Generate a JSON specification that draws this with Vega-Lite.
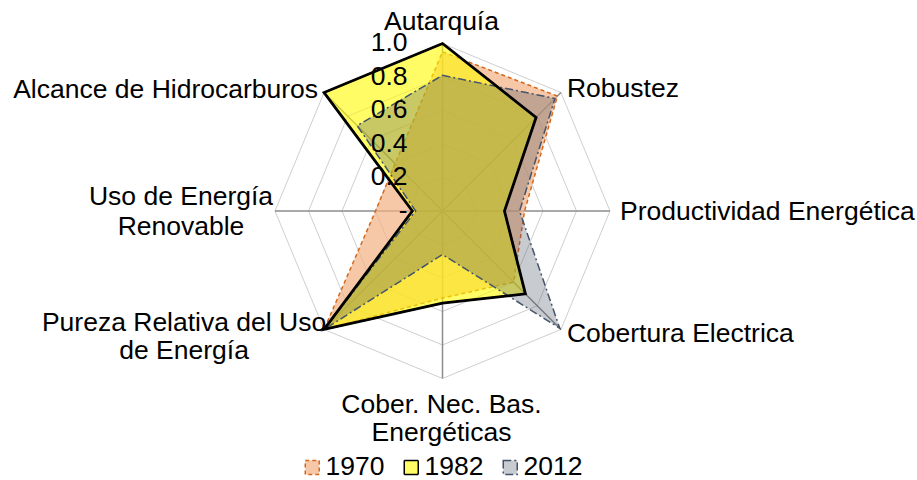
{
  "$schema": "https://vega.github.io/schema/vega-lite/v6.json",
  "width": 917,
  "height": 480,
  "padding": 0,
  "autosize": {"type": "fit", "contains": "padding"},
  "background": "white",
  "config": {"view": {"stroke": null}, "font": "Liberation Sans", "text": {"font": "Liberation Sans", "fontSize": 26.5, "color": "black"}},
  "datasets": {
    "series": [
      {"year": "1970", "i": 0, "value": 0.95},
      {"year": "1970", "i": 1, "value": 0.97},
      {"year": "1970", "i": 2, "value": 0.49},
      {"year": "1970", "i": 3, "value": 0.60},
      {"year": "1970", "i": 4, "value": 0.52},
      {"year": "1970", "i": 5, "value": 1.0},
      {"year": "1970", "i": 6, "value": 0.40},
      {"year": "1970", "i": 7, "value": 0.40},
      {"year": "1982", "i": 0, "value": 1.0},
      {"year": "1982", "i": 1, "value": 0.79},
      {"year": "1982", "i": 2, "value": 0.37},
      {"year": "1982", "i": 3, "value": 0.70},
      {"year": "1982", "i": 4, "value": 0.55},
      {"year": "1982", "i": 5, "value": 1.0},
      {"year": "1982", "i": 6, "value": 0.18},
      {"year": "1982", "i": 7, "value": 1.0},
      {"year": "2012", "i": 0, "value": 0.81},
      {"year": "2012", "i": 1, "value": 0.95},
      {"year": "2012", "i": 2, "value": 0.46},
      {"year": "2012", "i": 3, "value": 0.99},
      {"year": "2012", "i": 4, "value": 0.26},
      {"year": "2012", "i": 5, "value": 1.0},
      {"year": "2012", "i": 6, "value": 0.16},
      {"year": "2012", "i": 7, "value": 0.72}
    ],
    "axes": [
      {"i": 0, "label": "Autarquía", "levels": [0.2, 0.4, 0.6, 0.8, 1.0]},
      {"i": 1, "label": "Robustez", "levels": [0.2, 0.4, 0.6, 0.8, 1.0]},
      {"i": 2, "label": "Productividad Energética", "levels": [0.2, 0.4, 0.6, 0.8, 1.0]},
      {"i": 3, "label": "Cobertura Electrica", "levels": [0.2, 0.4, 0.6, 0.8, 1.0]},
      {"i": 4, "label": ["Cober. Nec. Bas.", "Energéticas"], "levels": [0.2, 0.4, 0.6, 0.8, 1.0]},
      {"i": 5, "label": ["Pureza Relativa del Uso", "de Energía"], "levels": [0.2, 0.4, 0.6, 0.8, 1.0]},
      {"i": 6, "label": ["Uso de Energía", "Renovable"], "levels": [0.2, 0.4, 0.6, 0.8, 1.0]},
      {"i": 7, "label": "Alcance de Hidrocarburos", "levels": [0.2, 0.4, 0.6, 0.8, 1.0]}
    ],
    "ticks": [
      {"level": 0, "label": "-\u00a0"},
      {"level": 0.2, "label": "0.2"},
      {"level": 0.4, "label": "0.4"},
      {"level": 0.6, "label": "0.6"},
      {"level": 0.8, "label": "0.8"},
      {"level": 1.0, "label": "1.0"}
    ]
  },
  "layer": [
    {
      "data": {"name": "axes"},
      "transform": [
        {"flatten": ["levels"]},
        {"calculate": "datum.levels*sin(datum.i*PI/4)", "as": "gx"},
        {"calculate": "datum.levels*cos(datum.i*PI/4)", "as": "gy"}
      ],
      "mark": {"type": "line", "interpolate": "linear-closed", "stroke": "#cfcfcf", "strokeWidth": 1},
      "encoding": {
        "x": {"field": "gx", "type": "quantitative", "scale": {"domain": [-2.6418, 2.8328], "nice": false, "zero": false}, "axis": null},
        "y": {"field": "gy", "type": "quantitative", "scale": {"domain": [-1.606, 1.2597], "nice": false, "zero": false}, "axis": null},
        "detail": {"field": "levels", "type": "nominal"},
        "order": {"field": "i", "type": "quantitative"}
      }
    },
    {
      "data": {"name": "axes"},
      "transform": [
        {"calculate": "sin(datum.i*PI/4)", "as": "sx"},
        {"calculate": "cos(datum.i*PI/4)", "as": "sy"}
      ],
      "mark": {"type": "rule", "stroke": "#8c8c8c", "strokeWidth": 1.5},
      "encoding": {
        "x": {"field": "sx", "type": "quantitative", "scale": {"domain": [-2.6418, 2.8328], "nice": false, "zero": false}, "axis": null},
        "y": {"field": "sy", "type": "quantitative", "scale": {"domain": [-1.606, 1.2597], "nice": false, "zero": false}, "axis": null},
        "x2": {"datum": 0},
        "y2": {"datum": 0}
      }
    },
    {
      "data": {"name": "series"},
      "transform": [
        {"calculate": "datum.value*sin(datum.i*PI/4)", "as": "px"},
        {"calculate": "datum.value*cos(datum.i*PI/4)", "as": "py"}
      ],
      "mark": {"type": "line", "interpolate": "linear-closed", "strokeWidth": 1.5},
      "encoding": {
        "x": {"field": "px", "type": "quantitative", "scale": {"domain": [-2.6418, 2.8328], "nice": false, "zero": false}, "axis": null},
        "y": {"field": "py", "type": "quantitative", "scale": {"domain": [-1.606, 1.2597], "nice": false, "zero": false}, "axis": null},
        "order": {"field": "i", "type": "quantitative"},
        "fill": {
          "field": "year", "type": "nominal",
          "scale": {"domain": ["1970", "1982", "2012"], "range": ["rgba(244,177,131,0.7)", "rgba(255,250,0,0.6)", "rgba(72,84,100,0.3)"]},
          "legend": {"orient": "none", "legendX": 299, "legendY": 454, "direction": "horizontal", "title": null, "symbolType": "square", "symbolSize": 196, "symbolStrokeWidth": 1.5, "labelFontSize": 26.5, "labelFont": "Liberation Sans", "labelColor": "black", "columnPadding": 13, "labelOffset": 0}
        },
        "stroke": {
          "field": "year", "type": "nominal",
          "scale": {"domain": ["1970", "1982", "2012"], "range": ["#d2691e", "#000000", "#44546a"]},
          "legend": {"orient": "none", "legendX": 299, "legendY": 454, "direction": "horizontal", "title": null, "symbolType": "square", "symbolSize": 196, "symbolStrokeWidth": 1.5, "labelFontSize": 26.5, "labelFont": "Liberation Sans", "labelColor": "black", "columnPadding": 13, "labelOffset": 0}
        },
        "strokeDash": {
          "field": "year", "type": "nominal",
          "scale": {"domain": ["1970", "1982", "2012"], "range": [[4, 3], [1, 0], [8, 3, 2, 3]]},
          "legend": {"orient": "none", "legendX": 299, "legendY": 454, "direction": "horizontal", "title": null, "symbolType": "square", "symbolSize": 196, "symbolStrokeWidth": 1.5, "labelFontSize": 26.5, "labelFont": "Liberation Sans", "labelColor": "black", "columnPadding": 13, "labelOffset": 0}
        }
      }
    },
    {
      "data": {"name": "series"},
      "transform": [
        {"filter": "datum.year == '1982'"},
        {"calculate": "datum.value*sin(datum.i*PI/4)", "as": "px"},
        {"calculate": "datum.value*cos(datum.i*PI/4)", "as": "py"}
      ],
      "mark": {"type": "line", "interpolate": "linear-closed", "stroke": "black", "strokeWidth": 2.8, "strokeJoin": "miter"},
      "encoding": {
        "x": {"field": "px", "type": "quantitative", "scale": {"domain": [-2.6418, 2.8328], "nice": false, "zero": false}, "axis": null},
        "y": {"field": "py", "type": "quantitative", "scale": {"domain": [-1.606, 1.2597], "nice": false, "zero": false}, "axis": null},
        "order": {"field": "i", "type": "quantitative"}
      }
    },
    {
      "data": {"name": "ticks"},
      "mark": {"type": "text", "align": "right", "baseline": "middle", "dx": -35, "fontSize": 26.5},
      "encoding": {
        "x": {"datum": 0, "type": "quantitative", "scale": {"domain": [-2.6418, 2.8328], "nice": false, "zero": false}, "axis": null},
        "y": {"field": "level", "type": "quantitative", "scale": {"domain": [-1.606, 1.2597], "nice": false, "zero": false}, "axis": null},
        "text": {"field": "label", "type": "nominal"}
      }
    },
    {
      "data": {"name": "axes"},
      "transform": [{"filter": "datum.i == 0"}, {"calculate": "sin(datum.i*PI/4)", "as": "lx"}, {"calculate": "cos(datum.i*PI/4)", "as": "ly"}],
      "mark": {"type": "text", "align": "center", "baseline": "alphabetic", "dx": -1, "dy": -13},
      "encoding": {
        "x": {"field": "lx", "type": "quantitative", "scale": {"domain": [-2.6418, 2.8328], "nice": false, "zero": false}, "axis": null},
        "y": {"field": "ly", "type": "quantitative", "scale": {"domain": [-1.606, 1.2597], "nice": false, "zero": false}, "axis": null},
        "text": {"field": "label", "type": "nominal"}
      }
    },
    {
      "data": {"name": "axes"},
      "transform": [{"filter": "datum.i == 1"}, {"calculate": "sin(datum.i*PI/4)", "as": "lx"}, {"calculate": "cos(datum.i*PI/4)", "as": "ly"}],
      "mark": {"type": "text", "align": "left", "baseline": "middle", "dx": 6, "dy": -4},
      "encoding": {
        "x": {"field": "lx", "type": "quantitative", "scale": {"domain": [-2.6418, 2.8328], "nice": false, "zero": false}, "axis": null},
        "y": {"field": "ly", "type": "quantitative", "scale": {"domain": [-1.606, 1.2597], "nice": false, "zero": false}, "axis": null},
        "text": {"field": "label", "type": "nominal"}
      }
    },
    {
      "data": {"name": "axes"},
      "transform": [{"filter": "datum.i == 2"}, {"calculate": "sin(datum.i*PI/4)", "as": "lx"}, {"calculate": "cos(datum.i*PI/4)", "as": "ly"}],
      "mark": {"type": "text", "align": "left", "baseline": "middle", "dx": 10, "dy": 1},
      "encoding": {
        "x": {"field": "lx", "type": "quantitative", "scale": {"domain": [-2.6418, 2.8328], "nice": false, "zero": false}, "axis": null},
        "y": {"field": "ly", "type": "quantitative", "scale": {"domain": [-1.606, 1.2597], "nice": false, "zero": false}, "axis": null},
        "text": {"field": "label", "type": "nominal"}
      }
    },
    {
      "data": {"name": "axes"},
      "transform": [{"filter": "datum.i == 3"}, {"calculate": "sin(datum.i*PI/4)", "as": "lx"}, {"calculate": "cos(datum.i*PI/4)", "as": "ly"}],
      "mark": {"type": "text", "align": "left", "baseline": "middle", "dx": 6, "dy": 5},
      "encoding": {
        "x": {"field": "lx", "type": "quantitative", "scale": {"domain": [-2.6418, 2.8328], "nice": false, "zero": false}, "axis": null},
        "y": {"field": "ly", "type": "quantitative", "scale": {"domain": [-1.606, 1.2597], "nice": false, "zero": false}, "axis": null},
        "text": {"field": "label", "type": "nominal"}
      }
    },
    {
      "data": {"name": "axes"},
      "transform": [{"filter": "datum.i == 4"}, {"calculate": "sin(datum.i*PI/4)", "as": "lx"}, {"calculate": "cos(datum.i*PI/4)", "as": "ly"}],
      "mark": {"type": "text", "align": "center", "baseline": "middle", "dx": -1, "dy": 27, "lineHeight": 28},
      "encoding": {
        "x": {"field": "lx", "type": "quantitative", "scale": {"domain": [-2.6418, 2.8328], "nice": false, "zero": false}, "axis": null},
        "y": {"field": "ly", "type": "quantitative", "scale": {"domain": [-1.606, 1.2597], "nice": false, "zero": false}, "axis": null},
        "text": {"field": "label", "type": "nominal"}
      }
    },
    {
      "data": {"name": "axes"},
      "transform": [{"filter": "datum.i == 5"}, {"calculate": "sin(datum.i*PI/4)", "as": "lx"}, {"calculate": "cos(datum.i*PI/4)", "as": "ly"}],
      "mark": {"type": "text", "align": "center", "baseline": "middle", "dx": -140, "dy": -6, "lineHeight": 28},
      "encoding": {
        "x": {"field": "lx", "type": "quantitative", "scale": {"domain": [-2.6418, 2.8328], "nice": false, "zero": false}, "axis": null},
        "y": {"field": "ly", "type": "quantitative", "scale": {"domain": [-1.606, 1.2597], "nice": false, "zero": false}, "axis": null},
        "text": {"field": "label", "type": "nominal"}
      }
    },
    {
      "data": {"name": "axes"},
      "transform": [{"filter": "datum.i == 6"}, {"calculate": "sin(datum.i*PI/4)", "as": "lx"}, {"calculate": "cos(datum.i*PI/4)", "as": "ly"}],
      "mark": {"type": "text", "align": "center", "baseline": "middle", "dx": -94, "dy": -14, "lineHeight": 30},
      "encoding": {
        "x": {"field": "lx", "type": "quantitative", "scale": {"domain": [-2.6418, 2.8328], "nice": false, "zero": false}, "axis": null},
        "y": {"field": "ly", "type": "quantitative", "scale": {"domain": [-1.606, 1.2597], "nice": false, "zero": false}, "axis": null},
        "text": {"field": "label", "type": "nominal"}
      }
    },
    {
      "data": {"name": "axes"},
      "transform": [{"filter": "datum.i == 7"}, {"calculate": "sin(datum.i*PI/4)", "as": "lx"}, {"calculate": "cos(datum.i*PI/4)", "as": "ly"}],
      "mark": {"type": "text", "align": "right", "baseline": "middle", "dx": -6, "dy": -3},
      "encoding": {
        "x": {"field": "lx", "type": "quantitative", "scale": {"domain": [-2.6418, 2.8328], "nice": false, "zero": false}, "axis": null},
        "y": {"field": "ly", "type": "quantitative", "scale": {"domain": [-1.606, 1.2597], "nice": false, "zero": false}, "axis": null},
        "text": {"field": "label", "type": "nominal"}
      }
    }
  ]
}
